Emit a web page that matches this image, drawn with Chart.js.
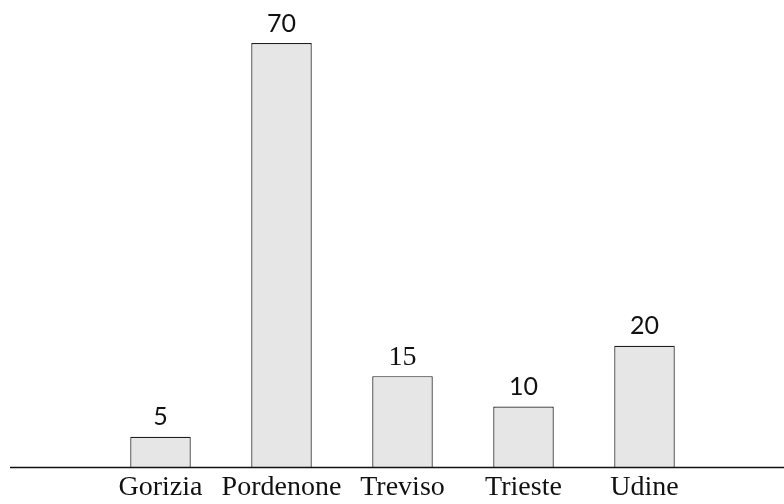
<!DOCTYPE html>
<html>
<head>
<meta charset="utf-8">
<script src="https://cdn.jsdelivr.net/npm/chart.js@4.4.1/dist/chart.umd.min.js"></script>
<style>
  html, body { margin: 0; padding: 0; background: #fff; }
  #wrap { width: 784px; height: 504px; }
</style>
</head>
<body>
<div id="wrap"><canvas id="barChart"></canvas></div>
<script>
// data
const cities = ['Gorizia', 'Pordenone', 'Treviso', 'Trieste', 'Udine'];
const counts = [5, 70, 15, 10, 20];

// the "15" label is set in a serif face in the original, the others in sans
const labelFonts = ['Lato', 'Lato', 'Liberation Serif', 'Lato', 'Lato'];

const valueLabels = {
    id: 'valueLabels',
    afterDatasetsDraw(chart) {
        const ctx = chart.ctx;
        const meta = chart.getDatasetMeta(0);
        ctx.save();
        ctx.fillStyle = '#111';
        ctx.textAlign = 'center';
        ctx.textBaseline = 'alphabetic';
        meta.data.forEach((bar, i) => {
            const serif = labelFonts[i] === 'Liberation Serif';
            ctx.font = (serif ? '28px ' : '25px ') + labelFonts[i];
            ctx.fillText(String(counts[i]), bar.x, bar.y - 11.5);
        });
        ctx.restore();
    }
};

// long baseline that runs past the bars on both sides
const baseLine = {
    id: 'baseLine',
    afterDatasetsDraw(chart) {
        const ctx = chart.ctx;
        const y = Math.round(chart.scales.y.getPixelForValue(0)) + 0.5;
        ctx.save();
        ctx.strokeStyle = '#111';
        ctx.lineWidth = 1.5;
        ctx.beginPath();
        ctx.moveTo(10, y);
        ctx.lineTo(chart.width, y);
        ctx.stroke();
        ctx.restore();
    }
};

new Chart(document.getElementById('barChart'), {
    type: 'bar',
    data: {
        labels: cities,
        datasets: [{
            data: counts,
            backgroundColor: '#e6e6e6',
            borderColor: '#1e1e1e',
            borderWidth: 1.2,
            barPercentage: 0.5,
            categoryPercentage: 1.0
        }]
    },
    options: {
        responsive: true,
        maintainAspectRatio: false,
        animation: false,
        layout: {
            padding: { left: 100, right: 79, top: 43, bottom: -3.6 }
        },
        plugins: {
            legend: { display: false },
            tooltip: { enabled: false }
        },
        scales: {
            x: {
                grid: { display: false, drawTicks: false },
                border: { display: false },
                ticks: {
                    autoSkip: false,
                    maxRotation: 0,
                    minRotation: 0,
                    padding: 0,
                    color: '#111',
                    font: { family: 'Liberation Serif', size: 28, lineHeight: 1.45 }
                }
            },
            y: {
                display: false,
                min: 0,
                max: 70
            }
        }
    },
    plugins: [valueLabels, baseLine]
});
</script>
</body>
</html>
